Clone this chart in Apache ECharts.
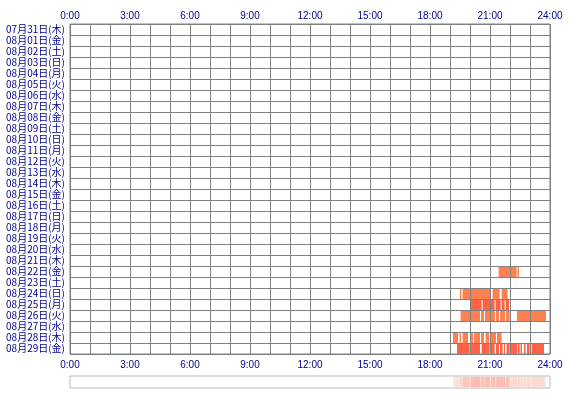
<!DOCTYPE html>
<html>
<head>
<meta charset="utf-8">
<script src="https://cdn.jsdelivr.net/npm/echarts@6/dist/echarts.min.js"></script>
<style>
  html, body { margin: 0; padding: 0; background: #fff; }
  #chart { width: 570px; height: 400px; }
</style>
</head>
<body>
<div id="chart"></div>
<script>
// 日付ラベル (上から順)
var days = [
    '07月31日(木)', '08月01日(金)', '08月02日(土)', '08月03日(日)', '08月04日(月)',
    '08月05日(火)', '08月06日(水)', '08月07日(木)', '08月08日(金)', '08月09日(土)',
    '08月10日(日)', '08月11日(月)', '08月12日(火)', '08月13日(水)', '08月14日(木)',
    '08月15日(金)', '08月16日(土)', '08月17日(日)', '08月18日(月)', '08月19日(火)',
    '08月20日(水)', '08月21日(木)', '08月22日(金)', '08月23日(土)', '08月24日(日)',
    '08月25日(月)', '08月26日(火)', '08月27日(水)', '08月28日(木)', '08月29日(金)'
];

// 時刻の目盛 (時)
var hourTicks = [0, 3, 6, 9, 12, 15, 18, 21, 24];

// 活動時間帯 [開始, 終了] (時)
var seg0822 = [[21.43, 22.33], [22.38, 22.45]];
var seg0824 = [[19.50, 19.57], [19.63, 21.00], [21.13, 21.48], [21.58, 21.88]];
var seg0825 = [[20.03, 20.58], [20.63, 21.00], [21.05, 21.23], [21.28, 21.53], [21.58, 21.73], [21.78, 21.95]];
var seg0826 = [[19.53, 20.50], [20.55, 20.70], [20.75, 21.25], [21.30, 21.45], [21.50, 21.75], [21.80, 21.98], [22.35, 23.80]];
var seg0828 = [[19.15, 19.40], [19.48, 19.55], [19.63, 19.90], [20.03, 20.15], [20.20, 20.50], [20.55, 20.70], [20.78, 20.95], [21.03, 21.30], [21.35, 21.58]];
var seg0829 = [[19.35, 19.98], [20.05, 20.50], [20.58, 20.98], [21.05, 21.23], [21.30, 21.45], [21.50, 21.63], [21.70, 21.75], [21.83, 21.98], [22.05, 22.35], [22.38, 22.48], [22.53, 22.60], [22.70, 22.78], [22.85, 22.98], [23.08, 23.70]];

var activity = [
    { day: '08月22日(金)', segs: seg0822, strong: false },
    { day: '08月24日(日)', segs: seg0824, strong: false },
    { day: '08月25日(月)', segs: seg0825, strong: true },
    { day: '08月26日(火)', segs: seg0826, strong: false },
    { day: '08月28日(木)', segs: seg0828, strong: false },
    { day: '08月29日(金)', segs: seg0829, strong: true }
];

var barData = [];
activity.forEach(function (a) {
    var row = days.indexOf(a.day);
    a.segs.forEach(function (s) {
        barData.push({
            value: [s[0], s[1], row],
            itemStyle: { color: a.strong ? '#ff6244' : '#ff8050' }
        });
    });
});

// 下の帯: 3分ごとに何日分活動があったか
var stripData = [];
for (var b = 0; b < 480; b++) {
    var t = b * 0.05, mid = t + 0.025, cnt = 0;
    activity.forEach(function (a) {
        for (var k = 0; k < a.segs.length; k++) {
            if (mid >= a.segs[k][0] && mid < a.segs[k][1]) { cnt++; break; }
        }
    });
    if (cnt > 0) stripData.push([t, t + 0.05, cnt]);
}

var myChart = echarts.init(document.getElementById('chart'));

var labelColor = '#000090';
var hourLabel = {
    color: labelColor,
    fontSize: 10,
    fontFamily: 'Liberation Sans, Arial, sans-serif',
    showMinLabel: true,
    showMaxLabel: true,
    formatter: function (v) {
        return hourTicks.indexOf(v) >= 0 ? v + ':00' : '';
    }
};

var option = {
    backgroundColor: '#fff',
    animation: false,
    grid: [
        { left: 70, right: 20, top: 24, height: 330, show: true, borderColor: '#808080', borderWidth: 1, backgroundColor: '#fff' },
        { left: 70, right: 20, top: 376, height: 12, show: true, borderColor: '#bbbbbb', borderWidth: 1, backgroundColor: '#fff' }
    ],
    xAxis: [
        {
            gridIndex: 0, type: 'value', min: 0, max: 24, interval: 1, position: 'bottom', z: 5,
            axisLine: { show: false }, axisTick: { show: false },
            axisLabel: Object.assign({ margin: 6 }, hourLabel),
            splitLine: { show: true, lineStyle: { color: '#808080', width: 1 } }
        },
        {
            gridIndex: 0, type: 'value', min: 0, max: 24, interval: 1, position: 'top', z: 5,
            axisLine: { show: false }, axisTick: { show: false },
            axisLabel: Object.assign({ margin: 3 }, hourLabel),
            splitLine: { show: false }
        },
        {
            gridIndex: 1, type: 'value', min: 0, max: 24, show: false
        }
    ],
    yAxis: [
        {
            gridIndex: 0, type: 'category', data: days, inverse: true, z: 5,
            axisLine: { show: false }, axisTick: { show: false },
            axisLabel: {
                interval: 0, margin: 5, color: labelColor, fontSize: 10,
                fontFamily: 'Noto Sans CJK JP, sans-serif'
            },
            splitLine: { show: true, interval: 0, lineStyle: { color: '#808080', width: 1 } }
        },
        {
            gridIndex: 1, type: 'value', min: 0, max: 1, show: false
        }
    ],
    series: [
        {
            type: 'custom',
            xAxisIndex: 0,
            yAxisIndex: 0,
            encode: { x: [0, 1], y: 2 },
            renderItem: function (params, api) {
                var row = api.value(2);
                var p0 = api.coord([api.value(0), row]);
                var p1 = api.coord([api.value(1), row]);
                var h = api.size([0, 1])[1];
                return {
                    type: 'rect',
                    shape: { x: p0[0], y: p0[1] - h / 2 + 1, width: p1[0] - p0[0], height: h - 1 },
                    style: { fill: api.visual('color') }
                };
            },
            data: barData
        },
        {
            type: 'custom',
            xAxisIndex: 2,
            yAxisIndex: 1,
            encode: { x: [0, 1] },
            renderItem: function (params, api) {
                var p0 = api.coord([api.value(0), 1]);
                var p1 = api.coord([api.value(1), 0]);
                var a = Math.min(0.5, 0.12 + api.value(2) * 0.07);
                return {
                    type: 'rect',
                    shape: { x: p0[0], y: p0[1] + 1, width: p1[0] - p0[0], height: p1[1] - p0[1] - 2 },
                    style: { fill: 'rgba(255,110,80,' + a + ')' }
                };
            },
            data: stripData
        }
    ]
};

myChart.setOption(option);
</script>
</body>
</html>
